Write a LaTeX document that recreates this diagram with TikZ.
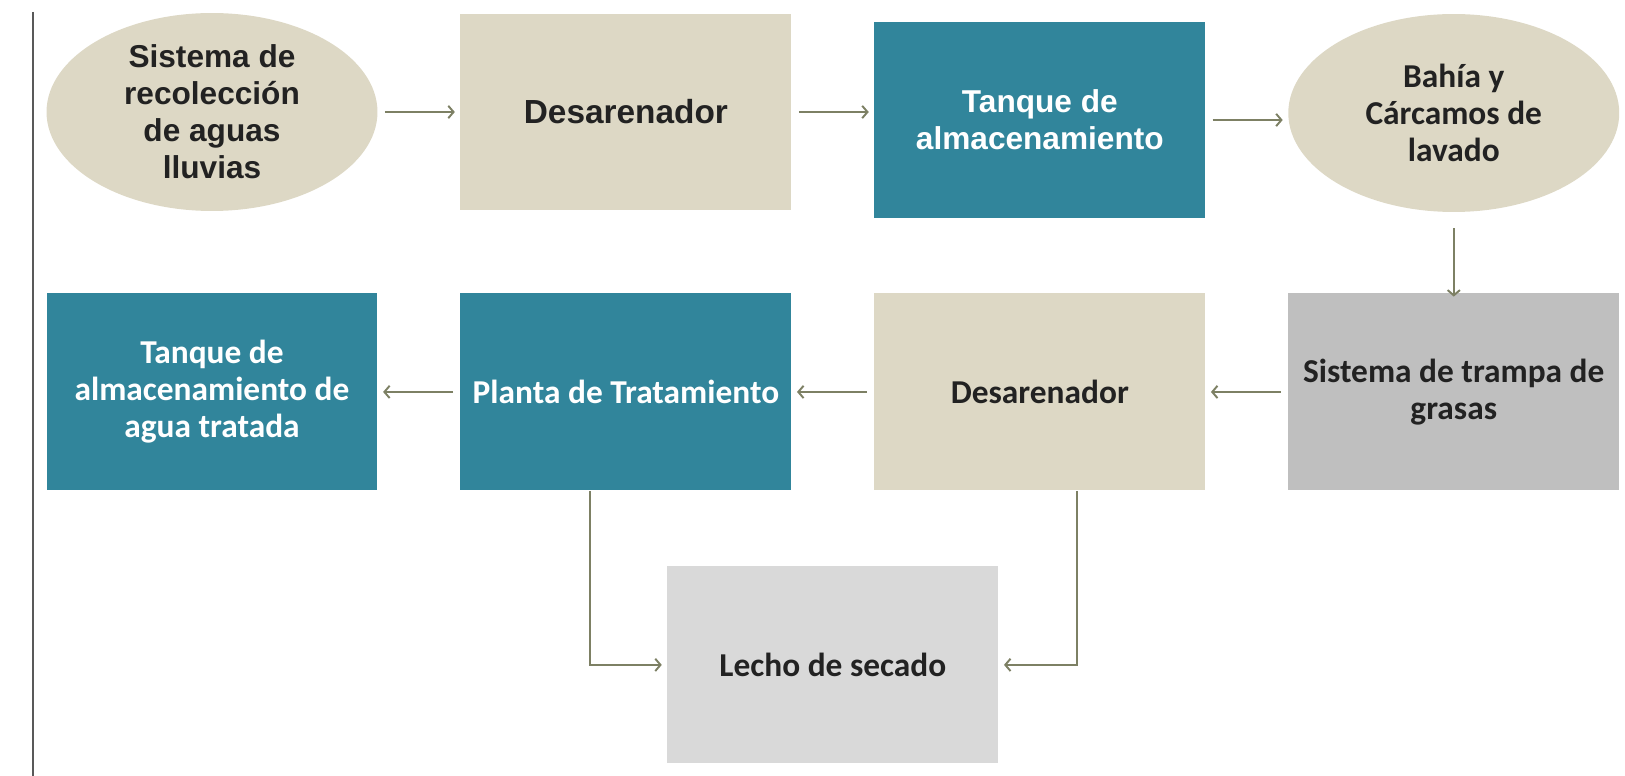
\documentclass[tikz,border=0pt]{standalone}
\usepackage{fontspec}
\setmainfont{Liberation Sans}
\newfontfamily\calfont{Carlito}
\usetikzlibrary{shapes.geometric,positioning,arrows.meta}

\definecolor{beige}{RGB}{221,216,197}
\definecolor{teal}{RGB}{49,133,155}
\definecolor{darkgray}{RGB}{191,191,191}
\definecolor{lightgray}{RGB}{217,217,217}
\definecolor{arrowcol}{RGB}{125,128,100}
\definecolor{txt}{RGB}{34,34,34}

\tikzset{
  box/.style={rectangle, minimum width=6.62cm, minimum height=3.94cm, align=center, inner sep=2pt, text=txt},
  sandbox/.style={box, fill=beige},
  tealbox/.style={box, fill=teal, text=white},
  oval/.style={ellipse, fill=beige, minimum width=6.62cm, minimum height=3.96cm, align=center, inner sep=0pt, text=txt},
  arialtxt/.style={font=\bfseries\fontsize{18}{21}\selectfont},
  caltxt/.style={font=\calfont\bfseries\fontsize{19}{21}\selectfont},
  flow/.style={-{Straight Barb[length=3pt,width=7pt]}, draw=arrowcol, line width=1.1pt, shorten <=4pt, shorten >=3pt}
}

\begin{document}
\begin{tikzpicture}[x=0.02cm, y=-0.02cm, node distance=5.58cm and 8.28cm, on grid]
   \useasboundingbox (0,0) rectangle (1625,776);
   \draw[gray!70!black, line width=1.6pt] (33,12) -- (33,776);

   % fila superior
   \node[oval, arialtxt] (recol) at (212,112) {Sistema de\\recolección\\de aguas\\lluvias};
   \node[sandbox, font=\bfseries\fontsize{19}{23}\selectfont] (desA) [right=of recol] {Desarenador};
   \node[tealbox, arialtxt, yshift=-0.16cm] (tanqueA) [right=of desA] {Tanque de\\almacenamiento};
   \node[oval, caltxt, yshift=0.14cm] (bahia) [right=of tanqueA] {Bahía y\\Cárcamos de\\lavado};

   % fila inferior
   \node[box, fill=darkgray, caltxt] (trampa) [below=of bahia] {Sistema de trampa de\\grasas};
   \node[sandbox, caltxt] (desB) [left=of trampa] {Desarenador};
   \node[tealbox, caltxt] (planta) [left=of desB] {Planta de Tratamiento};
   \node[tealbox, caltxt] (tanqueB) [left=of planta] {Tanque de\\almacenamiento de\\agua tratada};
   \node[box, fill=lightgray, caltxt] (lecho) [below right=5.46cm and 4.14cm of planta] {Lecho de secado};

   \draw[flow] (recol) -- (desA);
   \draw[flow] (desA) -- (desA -| tanqueA.west);
   \draw[flow] (tanqueA) -- (tanqueA -| bahia.west);
   \draw[flow, shorten <=9pt, shorten >=-2pt] (bahia.south -| trampa) -- (trampa);
   \draw[flow] (trampa) -- (desB);
   \draw[flow] (desB) -- (planta);
   \draw[flow] (planta) -- (tanqueB);
   \draw[flow, shorten <=0pt] ([xshift=-0.72cm]planta.south) |- (lecho.west);
   \draw[flow, shorten <=0pt] ([xshift=0.74cm]desB.south) |- (lecho.east);
\end{tikzpicture}
\end{document}
